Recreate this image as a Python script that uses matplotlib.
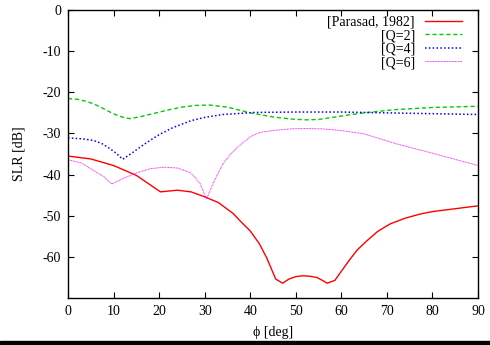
import matplotlib
matplotlib.use('Agg')
import matplotlib.pyplot as plt
from matplotlib.patches import Rectangle

plt.rcParams['font.family'] = ['Liberation Serif', 'DejaVu Serif']
plt.rcParams['font.size'] = 10
plt.rcParams['axes.unicode_minus'] = False

# Parasad, 1982
phi_ref = [0, 5, 10, 15, 20.3, 24, 27, 30, 33, 36.3, 38, 40, 42, 43.6, 44.6, 45.6,
           47.1, 48.5, 50, 51.6, 53, 54.6, 56, 56.9, 58.6, 60, 61.9, 63.5, 65.6, 68,
           70.7, 74, 77.3, 80, 85, 90]
slr_ref = [-35.5, -36.2, -37.8, -40.2, -44.2, -43.8, -44.2, -45.4, -46.8, -49.5, -51.5,
           -53.7, -56.8, -60.2, -62.8, -65.4, -66.4, -65.4, -64.8, -64.6, -64.7, -65.0,
           -65.8, -66.4, -65.7, -63.5, -60.6, -58.3, -56.1, -53.8, -52.0, -50.6, -49.6,
           -49.0, -48.3, -47.6]

# Q=2
phi_q2 = [0, 2, 4, 5.6, 7.5, 9.2, 11, 12.5, 13.6, 16, 19, 22, 25, 28, 31, 35, 40, 45,
          49, 52.4, 55, 57.5, 61, 65, 72, 80, 90]
slr_q2 = [-21.5, -21.7, -22.2, -22.8, -23.8, -24.8, -25.7, -26.2, -26.4, -25.9, -25.1,
          -24.3, -23.6, -23.2, -23.1, -23.6, -25.0, -26.0, -26.5, -26.7, -26.6, -26.2,
          -25.6, -25.0, -24.2, -23.7, -23.4]

# Q=4
phi_q4 = [0, 3, 5.6, 7.5, 9.2, 10.7, 12, 14, 16, 18, 20, 23, 27, 30, 34, 41, 50, 60,
          70, 80, 90]
slr_q4 = [-31.1, -31.3, -31.7, -32.5, -33.7, -34.9, -36.3, -34.8, -33.2, -31.7, -30.3,
          -28.6, -26.9, -26.1, -25.4, -24.9, -24.8, -24.8, -25.0, -25.2, -25.4]

# Q=6
phi_q6 = [0, 3, 5.6, 8, 9.6, 12, 15, 18, 21, 24, 27, 29, 30.4, 32, 34, 36, 37.7, 40,
          42, 45, 48.7, 52, 56, 60, 65, 72, 80, 90]
slr_q6 = [-36.4, -37.2, -39.0, -40.6, -42.3, -41.0, -39.6, -38.6, -38.2, -38.4, -39.6,
          -42.2, -45.9, -41.8, -37.4, -34.6, -32.9, -30.8, -29.8, -29.3, -28.9, -28.8,
          -28.9, -29.3, -30.1, -32.5, -34.8, -37.8]

fig = plt.figure(figsize=(4.9, 3.45), dpi=100)
ax = fig.add_axes([68 / 490, 1 - 298 / 345, 410 / 490, 288 / 345])

ax.plot(phi_ref, slr_ref, color='#ff0000', lw=1.0, label='[Parasad, 1982]')
ax.plot(phi_q2, slr_q2, color='#00cc00', lw=1.0, dashes=(3, 2), label='[Q=2]')
ax.plot(phi_q4, slr_q4, color='#0000ff', lw=1.1, dashes=(1, 1.5), label='[Q=4]')
ax.plot(phi_q6, slr_q6, color='#ff00ff', lw=0.7, dashes=(0.8, 0.8), label='[Q=6]')

ax.set_xlim(0, 90)
ax.set_ylim(-70, 0)
ax.set_xticks(range(0, 91, 10))
ax.set_yticks(range(-60, 1, 10))
ax.tick_params(direction='in', top=True, right=True, length=4, width=0.8, pad=5)
for s in ax.spines.values():
    s.set_linewidth(1.0)

ax.set_xlabel('ϕ [deg]', labelpad=6)
ax.set_ylabel('SLR [dB]', labelpad=12)

leg = ax.legend(loc='upper right', bbox_to_anchor=(0.961, 0.98), frameon=False,
                markerfirst=False, handlelength=2.7, handletextpad=0.7,
                labelspacing=0.03, borderaxespad=0.0, borderpad=0.0, fontsize=10)
for t in leg.get_texts():
    t.set_ha('right')

# black strip along the bottom edge
fig.patches.append(Rectangle((0, 0), 1, 4 / 345, transform=fig.transFigure,
                             color='black', zorder=10))

fig.savefig('out.png', dpi=100)
plt.close(fig)
